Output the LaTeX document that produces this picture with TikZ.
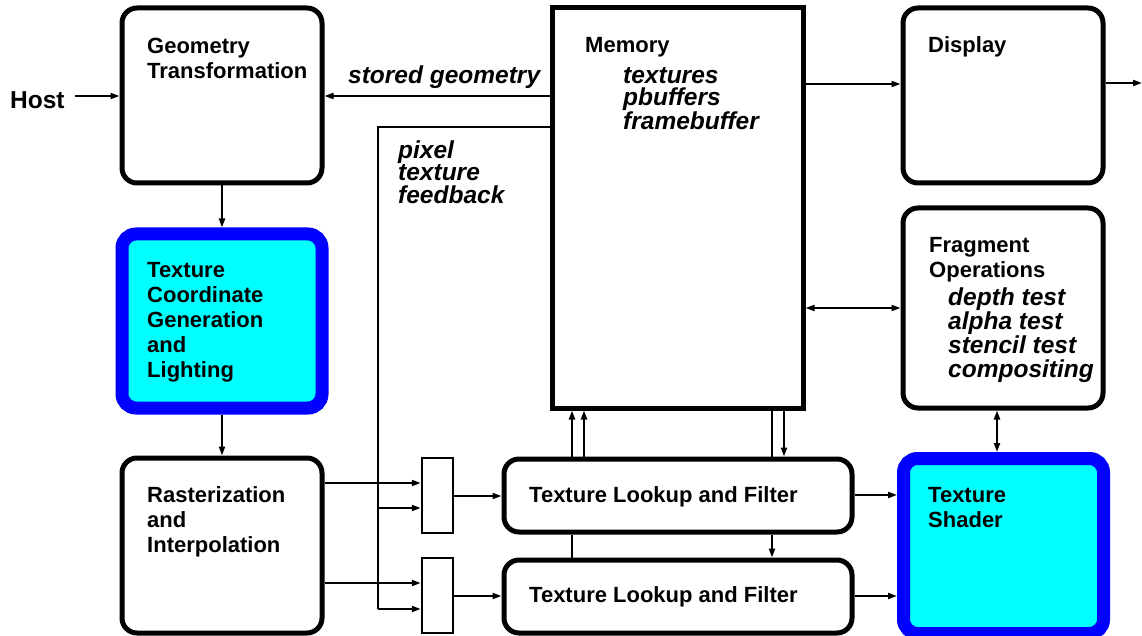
\documentclass[tikz,border=0pt]{standalone}
\usepackage{fontspec}
\setmainfont{Liberation Sans}
\usetikzlibrary{arrows.meta}
\definecolor{hotblue}{RGB}{0,0,255}
\definecolor{hotcyan}{RGB}{0,255,255}
\begin{document}
\begin{tikzpicture}[x=1pt,y=-1pt,
 box/.style={draw, line width=5pt, rounded corners=15pt, minimum width=200pt, inner sep=0pt},
 hot/.style={draw=hotblue, fill=hotcyan, line width=13pt, rounded corners=14pt, minimum width=200pt, inner sep=0pt},
 mux/.style={draw, line width=2.5pt, inner sep=0pt, minimum width=31pt, minimum height=75pt},
 lbl/.style={anchor=base west, inner sep=0pt, align=left, font=\bfseries\fontsize{22}{25}\selectfont},
 ilbl/.style={anchor=base west, inner sep=0pt, align=left, font=\bfseries\itshape\fontsize{24.5}{22.5}\selectfont},
 arr/.style={line width=2pt, -{Triangle[length=9pt,width=6pt]}},
 darr/.style={line width=2pt, {Triangle[length=9pt,width=6pt]}-{Triangle[length=9pt,width=6pt]}},
 ln/.style={line width=2pt}]
\useasboundingbox (0,0) rectangle (1142,636);

% boxes
\node[box, minimum height=175pt] (geo) at (222,95.5) {};
\node[hot, minimum height=174pt] (tcg) at (222,321) {};
\node[box, minimum height=175pt] (ras) at (222,545.5) {};
\node[draw, line width=5pt, inner sep=0pt, minimum width=250.5pt, minimum height=400pt] (mem) at (677.75,208) {};
\node[box, minimum height=175pt] (disp) at (1003,95.5) {};
\node[box, minimum height=200pt] (frag) at (1003,308) {};
\node[hot, minimum height=175pt] (ts) at (1003.5,546) {};
\node[box, minimum width=348pt, minimum height=73pt] (tl1) at (678,495.5) {};
\node[box, minimum width=348pt, minimum height=73pt] (tl2) at (678,596.5) {};
\node[mux] (mux1) at (437.5,495.5) {};
\node[mux] (mux2) at (437.5,595.5) {};

% texts (anchor = baseline of the last line)
\node[lbl, font=\bfseries\fontsize{24.5}{25}\selectfont] (host) at (10,109) {Host};
\node[lbl] (geot) at (147,78.5) {Geometry\\Transformation};
\node[ilbl] (sg) at (348,84) {stored geometry};
\node[lbl] (memt) at (585,53) {Memory};
\node[ilbl] (memi) at (623,129.5) {textures\\pbuffers\\framebuffer};
\node[ilbl] (pix) at (398,203.5) {pixel\\texture\\feedback};
\node[lbl] (dispt) at (928,53) {Display};
\node[lbl] (tcgt) at (147,377) {Texture\\Coordinate\\Generation\\and\\Lighting};
\node[lbl] (fragt) at (929,277) {Fragment\\Operations};
\node[ilbl, font=\bfseries\itshape\fontsize{24.5}{24}\selectfont] (fragi) at (948,377) {depth test\\alpha test\\stencil test\\compositing};
\node[lbl] (rast) at (147,552) {Rasterization\\and\\Interpolation};
\node[lbl] (tl1t) at (529,502) {Texture Lookup and Filter};
\node[lbl] (tl2t) at (529,602) {Texture Lookup and Filter};
\node[lbl] (tst) at (928,527) {Texture\\Shader};

% free ends
\coordinate (hostout) at (75,96);
\coordinate (dispout) at (1142,83);
\coordinate (fbA) at (378,127);
\coordinate (fbB) at (378,609);
\coordinate (fbC) at (378,508);

% connectors
\draw[arr] (hostout) -- (geo.west |- hostout);
\draw[arr] (mem.west |- 0,96) -- (geo.east |- 0,96);
\draw[arr] (geo.south) -- (tcg.north);
\draw[arr] (tcg.south) -- (ras.north);
\draw[arr] (mem.east |- 0,84) -- (disp.west |- 0,84);
\draw[arr] (disp.east |- dispout) -- (dispout);
\draw[darr] (mem.east |- 0,308) -- (frag.west |- 0,308);
\draw[darr] (frag.south -| 997,0) -- (ts.north -| 997,0);

\draw[ln] (mem.west |- fbA) -- (fbA) -- (fbB);
\draw[arr] (fbB) -- (mux2.west |- fbB);
\draw[arr] (fbC) -- (mux1.west |- fbC);

\draw[arr] (ras.east |- 0,483) -- (mux1.west |- 0,483);
\draw[arr] (ras.east |- 0,583) -- (mux2.west |- 0,583);
\draw[arr] (mux1.east |- 0,496) -- (tl1.west |- 0,496);
\draw[arr] (mux2.east |- 0,596) -- (tl2.west |- 0,596);
\draw[arr] (tl1.east |- 0,495) -- (ts.west |- 0,495);
\draw[arr] (tl2.east |- 0,596) -- (ts.west |- 0,596);

\draw[arr] (tl1.north -| 572,0) -- (mem.south -| 572,0);
\draw[arr] (tl1.north -| 584,0) -- (mem.south -| 584,0);
\draw[ln] (mem.south -| 772,0) -- (tl1.north -| 772,0);
\draw[arr] (mem.south -| 784,0) -- (tl1.north -| 784,0);
\draw[ln] (tl2.north -| 572,0) -- (tl1.south -| 572,0);
\draw[arr] (tl1.south -| 772,0) -- (tl2.north -| 772,0);
\end{tikzpicture}
\end{document}
